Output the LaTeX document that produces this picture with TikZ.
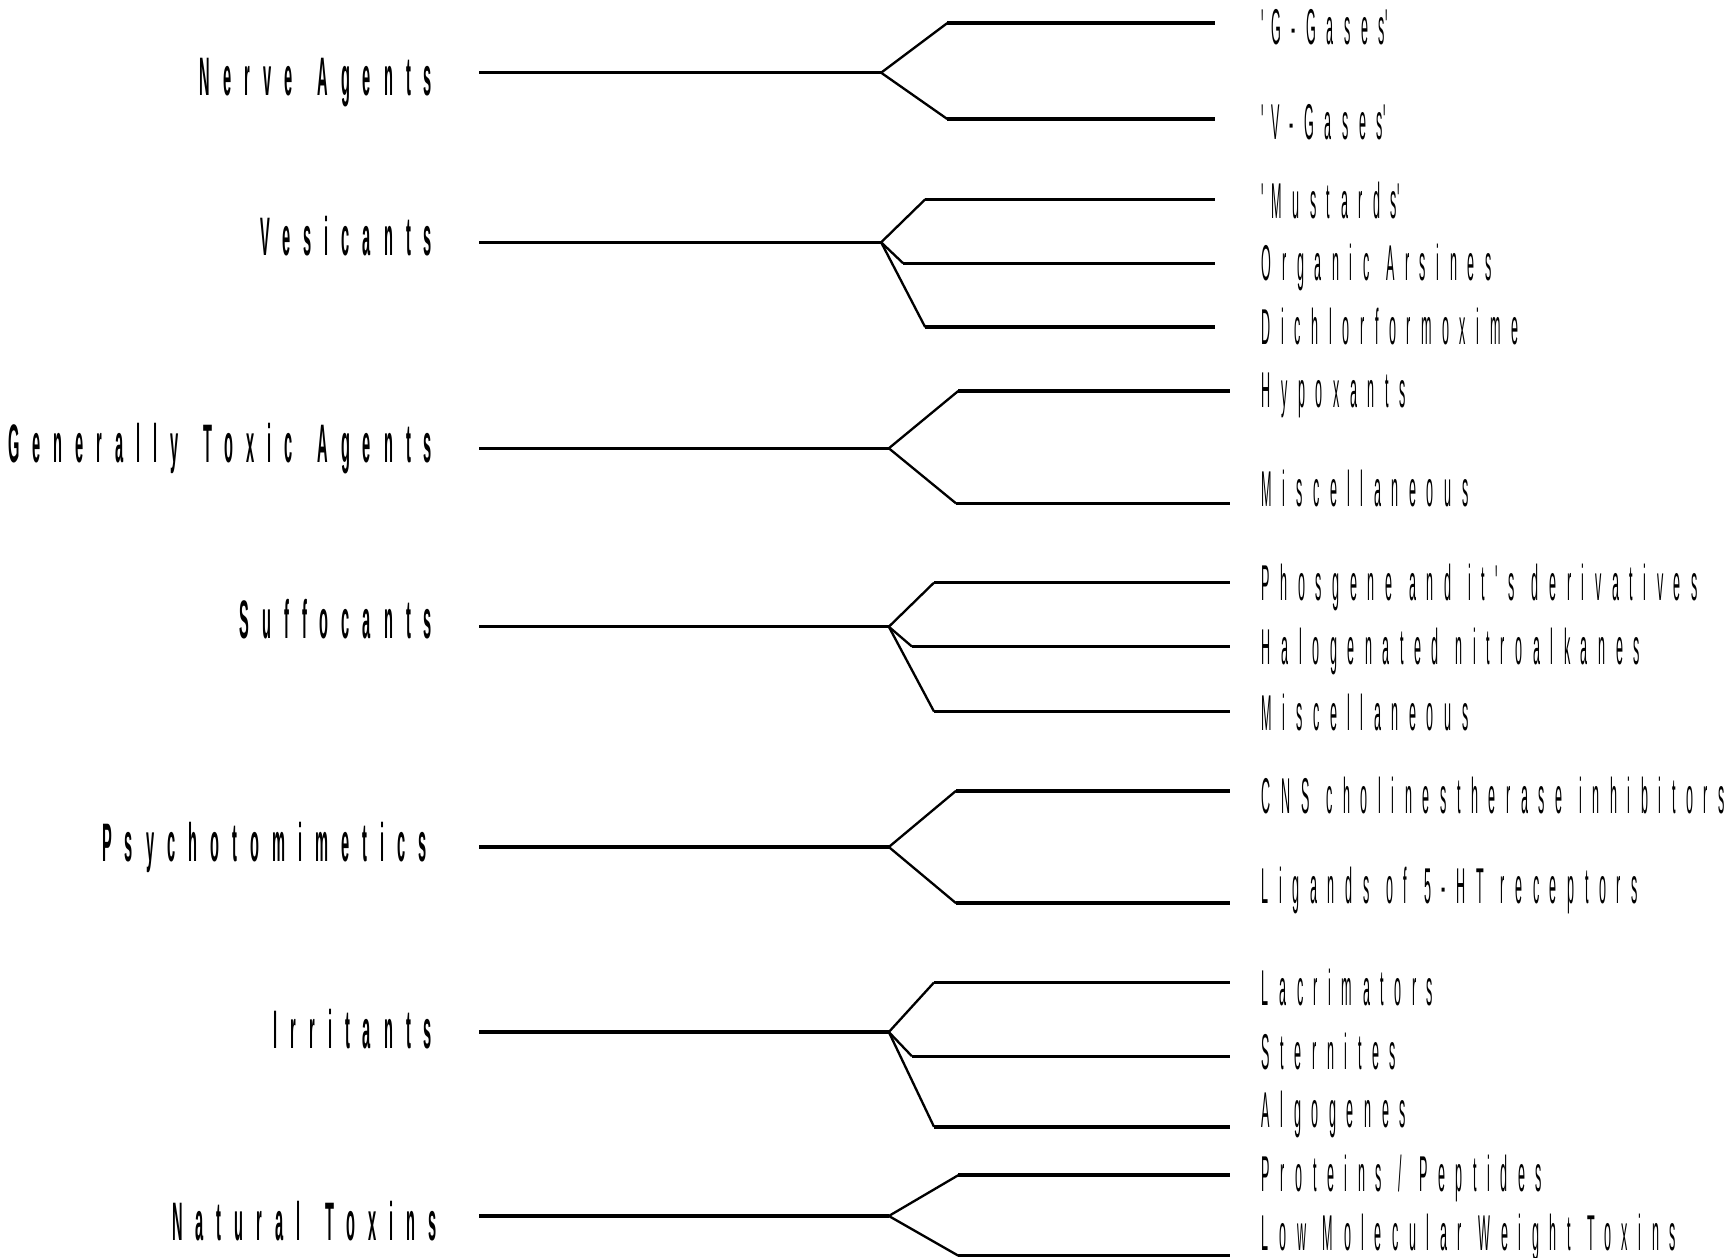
\documentclass[tikz,border=0pt]{standalone}
\usepackage{fontspec}
\usepackage{tikz}
\usetikzlibrary{positioning}
\newfontfamily\groupfont[FakeStretch=0.27,LetterSpace=24,WordSpace=1.45]{Liberation Sans}
\newfontfamily\itemfont[FakeStretch=0.25,LetterSpace=21,WordSpace=1.2]{Liberation Sans}

\begin{document}
\begin{tikzpicture}[
  group/.style={anchor=base east, inner sep=0pt, font=\groupfont\bfseries\fontsize{14}{14}\selectfont},
  item/.style={anchor=base west, inner sep=0pt, font=\itemfont\fontsize{13}{13}\selectfont},
  stem/.style={line width=0.9pt},
  branch/.style={line width=0.6pt},
  leaf/.style={line width=0.9pt},
]
  \useasboundingbox (0,0) rectangle (15.68,-11.42);

  % Nerve Agents
  \node[group] (nerve) at (3.93,-0.87) {Nerve Agents};
  \coordinate (nerveS) at (4.35,-0.66);
  \coordinate (nerveF) at (8.00,-0.66);
  \coordinate (gasGB) at (8.60,-0.21);  \coordinate (gasGE) at (11.03,-0.21);
  \coordinate (gasVB) at (8.60,-1.08);  \coordinate (gasVE) at (11.03,-1.08);
  \node[item] (gasG) at (11.45,-0.40) {\textquotesingle G-Gases\textquotesingle};
  \node[item] (gasV) at (11.45,-1.27) {\textquotesingle V-Gases\textquotesingle};

  % Vesicants
  \node[group] (vesic) at (3.93,-2.32) {Vesicants};
  \coordinate (vesicS) at (4.35,-2.20);
  \coordinate (vesicF) at (8.00,-2.20);
  \coordinate (mustB) at (8.40,-1.81);  \coordinate (mustE) at (11.03,-1.81);
  \coordinate (arsB) at (8.20,-2.39);   \coordinate (arsE) at (11.03,-2.39);
  \coordinate (dichB) at (8.40,-2.97);  \coordinate (dichE) at (11.03,-2.97);
  \node[item] (must) at (11.45,-1.98) {\textquotesingle Mustards\textquotesingle};
  \node[item] (ars) at (11.45,-2.55) {Organic Arsines};
  \node[item] (dich) at (11.45,-3.13) {Dichlorformoxime};

  % Generally Toxic Agents
  \node[group] (toxic) at (3.93,-4.20) {Generally Toxic Agents};
  \coordinate (toxicS) at (4.35,-4.07);
  \coordinate (toxicF) at (8.07,-4.07);
  \coordinate (hypoB) at (8.70,-3.55);  \coordinate (hypoE) at (11.17,-3.55);
  \coordinate (miscaB) at (8.68,-4.57); \coordinate (miscaE) at (11.17,-4.57);
  \node[item] (hypo) at (11.45,-3.70) {Hypoxants};
  \node[item] (misca) at (11.45,-4.60) {Miscellaneous};

  % Suffocants
  \node[group] (suff) at (3.93,-5.80) {Suffocants};
  \coordinate (suffS) at (4.35,-5.69);
  \coordinate (suffF) at (8.07,-5.69);
  \coordinate (phosB) at (8.48,-5.29);  \coordinate (phosE) at (11.17,-5.29);
  \coordinate (haloB) at (8.28,-5.87);  \coordinate (haloE) at (11.17,-5.87);
  \coordinate (miscbB) at (8.48,-6.46); \coordinate (miscbE) at (11.17,-6.46);
  \node[item] (phos) at (11.45,-5.45) {Phosgene and it's derivatives};
  \node[item] (halo) at (11.45,-6.03) {Halogenated nitroalkanes};
  \node[item] (miscb) at (11.45,-6.63) {Miscellaneous};

  % Psychotomimetics
  \node[group] (psych) at (3.88,-7.82) {Psychotomimetics};
  \coordinate (psychS) at (4.35,-7.69);
  \coordinate (psychF) at (8.07,-7.69);
  \coordinate (cnsB) at (8.68,-7.18);   \coordinate (cnsE) at (11.17,-7.18);
  \coordinate (ligB) at (8.68,-8.20);   \coordinate (ligE) at (11.17,-8.20);
  \node[item] (cns) at (11.45,-7.39) {CNS cholinestherase inhibitors};
  \node[item] (lig) at (11.45,-8.20) {Ligands of 5-HT receptors};

  % Irritants
  \node[group] (irrit) at (3.93,-9.52) {Irritants};
  \coordinate (irritS) at (4.35,-9.37);
  \coordinate (irritF) at (8.07,-9.37);
  \coordinate (lacB) at (8.48,-8.92);   \coordinate (lacE) at (11.17,-8.92);
  \coordinate (sterB) at (8.28,-9.59);  \coordinate (sterE) at (11.17,-9.59);
  \coordinate (algB) at (8.48,-10.23);  \coordinate (algE) at (11.17,-10.23);
  \node[item] (lac) at (11.45,-9.13) {Lacrimators};
  \node[item] (ster) at (11.45,-9.71) {Sternites};
  \node[item] (alg) at (11.45,-10.24) {Algogenes};

  % Natural Toxins
  \node[group] (natur) at (3.97,-11.26) {Natural Toxins};
  \coordinate (naturS) at (4.35,-11.04);
  \coordinate (naturF) at (8.07,-11.04);
  \coordinate (protB) at (8.70,-10.67); \coordinate (protE) at (11.17,-10.67);
  \coordinate (lmwB) at (8.70,-11.40);  \coordinate (lmwE) at (11.17,-11.40);
  \node[item] (prot) at (11.45,-10.82) {Proteins / Peptides};
  \node[item] (lmw) at (11.45,-11.35) {Low Molecular Weight Toxins};

  % stems
  \foreach \g in {nerve,vesic,toxic,suff,psych,irrit,natur}
    \draw[stem] (\g S) -- (\g F);

  % branches
  \foreach \f/\l in {nerve/gasG,nerve/gasV,vesic/must,vesic/ars,vesic/dich,
                     toxic/hypo,toxic/misca,suff/phos,suff/halo,suff/miscb,
                     psych/cns,psych/lig,irrit/lac,irrit/ster,irrit/alg,
                     natur/prot,natur/lmw}{
    \draw[branch] (\f F) -- (\l B);
    \draw[leaf] (\l B) -- (\l E);
  }
\end{tikzpicture}
\end{document}
